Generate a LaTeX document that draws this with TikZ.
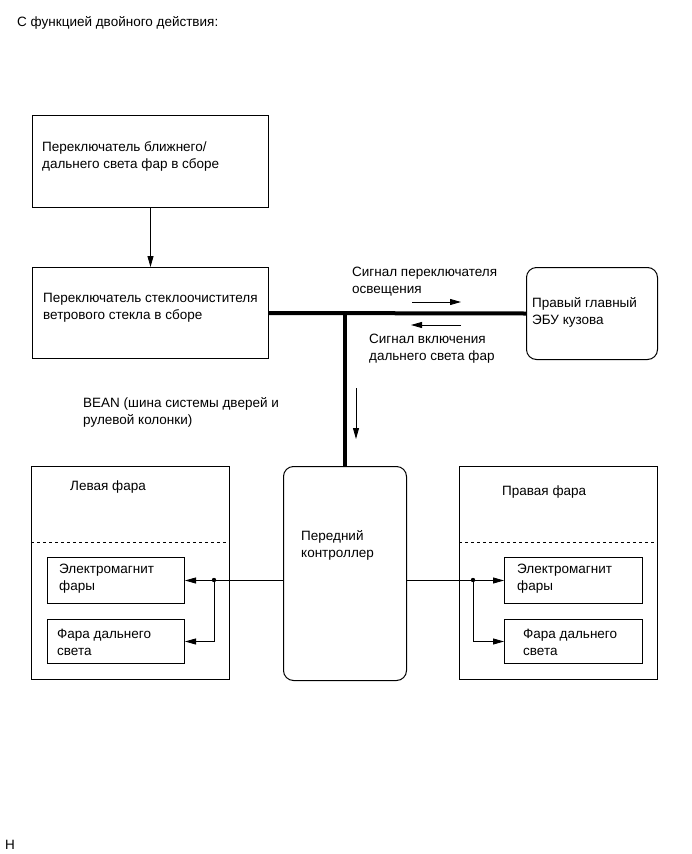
\documentclass[tikz,border=0pt]{standalone}
\usepackage{fontspec}
\setmainfont{Liberation Sans}
\usetikzlibrary{positioning,arrows.meta}

\begin{document}
\begin{tikzpicture}[
    x=1pt, y=-1pt,
    font=\fontsize{13.5}{17}\selectfont,
    blok/.style={
        draw,
        line width=1pt,
        anchor=north west,
        inner sep=0pt
    },
    blokr/.style={
        blok,
        rounded corners=10pt
    },
    tekst/.style={
        anchor=west,
        align=left,
        inner sep=0pt
    },
    strelka/.style={
        line width=0.8pt,
        -{Triangle[length=11pt,width=6pt]}
    },
    shina/.style={
        line width=4pt
    }
]

\useasboundingbox (0,0) rectangle (691,854);

\node[tekst] (zagolovok) at (17,23) {С функцией двойного действия:};
\node[tekst] (metka) at (5,845) {H};

% bloki
\node[blok, minimum width=236pt, minimum height=92pt] (blizhniy) at (32,115) {};
\node[blok, minimum width=236pt, minimum height=91pt] (stekloochist) at (32,267) {};
\node[blokr, minimum width=131pt, minimum height=92pt] (ebu) at (526,267) {};
\node[blokr, minimum width=123pt, minimum height=214pt] (kontroller) at (283,466) {};
\node[blok, minimum width=198pt, minimum height=213pt] (levfara) at (31,466) {};
\node[blok, minimum width=198pt, minimum height=213pt] (pravfara) at (459,466) {};
\node[blok, minimum width=137pt, minimum height=46pt] (lev-solenoid) at (47,557) {};
\node[blok, minimum width=137pt, minimum height=44pt] (lev-dalniy) at (47,619) {};
\node[blok, minimum width=138pt, minimum height=46pt] (prav-solenoid) at (504,557) {};
\node[blok, minimum width=138pt, minimum height=44pt] (prav-dalniy) at (504,619) {};

\draw[dashed, line width=0.9pt] (levfara.west |- 0,542) -- (levfara.east |- 0,542);
\draw[dashed, line width=0.9pt] (pravfara.west |- 0,542) -- (pravfara.east |- 0,542);

% teksty
\node[tekst] (blizhniy-t) at (42,156) {Переключатель ближнего/\\дальнего света фар в сборе};
\node[tekst] (stekloochist-t) at (43,308) {Переключатель стеклоочистителя\\ветрового стекла в сборе};
\node[tekst] (ebu-t) at (532,312) {Правый главный\\ЭБУ кузова};
\node[tekst] (kontroller-t) at (301,545) {Передний\\контроллер};
\node[tekst] (levfara-t) at (70,487) {Левая фара};
\node[tekst] (pravfara-t) at (502,492) {Правая фара};
\node[tekst] (lev-solenoid-t) at (59,579) {Электромагнит\\фары};
\node[tekst] (lev-dalniy-t) at (57,642) {Фара дальнего\\света};
\node[tekst] (prav-solenoid-t) at (517,579) {Электромагнит\\фары};
\node[tekst] (prav-dalniy-t) at (523,642) {Фара дальнего\\света};
\node[tekst] (signal1-t) at (352,282) {Сигнал переключателя\\освещения};
\node[tekst] (signal2-t) at (369,349) {Сигнал включения\\дальнего света фар};
\node[tekst] (bean-t) at (83,412) {BEAN (шина системы дверей и\\рулевой колонки)};

% shina BEAN
\draw[shina] (stekloochist.east) -- (ebu.west);
\draw[shina] (kontroller.north) -- (kontroller.north |- stekloochist.east);

% strelki signalov
\coordinate (signal1-a) at (412,302);
\coordinate (signal1-b) at (461,302);
\coordinate (signal2-a) at (461,325);
\coordinate (signal2-b) at (411,325);
\coordinate (bean-a) at (356,388);
\coordinate (bean-b) at (356,439);
\draw[strelka] (signal1-a) -- (signal1-b);
\draw[strelka] (signal2-a) -- (signal2-b);
\draw[strelka] (bean-a) -- (bean-b);

\draw[strelka] (blizhniy.south) -- (stekloochist.north);

% fary
\coordinate (lev-uzel) at (214,580);
\coordinate (prav-uzel) at (473,580);
\draw[strelka] (kontroller.west |- lev-solenoid.east) -- (lev-solenoid.east);
\draw[strelka] (lev-uzel) |- (lev-dalniy.east);
\draw[strelka] (kontroller.east |- prav-solenoid.west) -- (prav-solenoid.west);
\draw[strelka] (prav-uzel) |- (prav-dalniy.west);
\fill (lev-uzel) circle (2.2);
\fill (prav-uzel) circle (2.2);

\end{tikzpicture}
\end{document}
